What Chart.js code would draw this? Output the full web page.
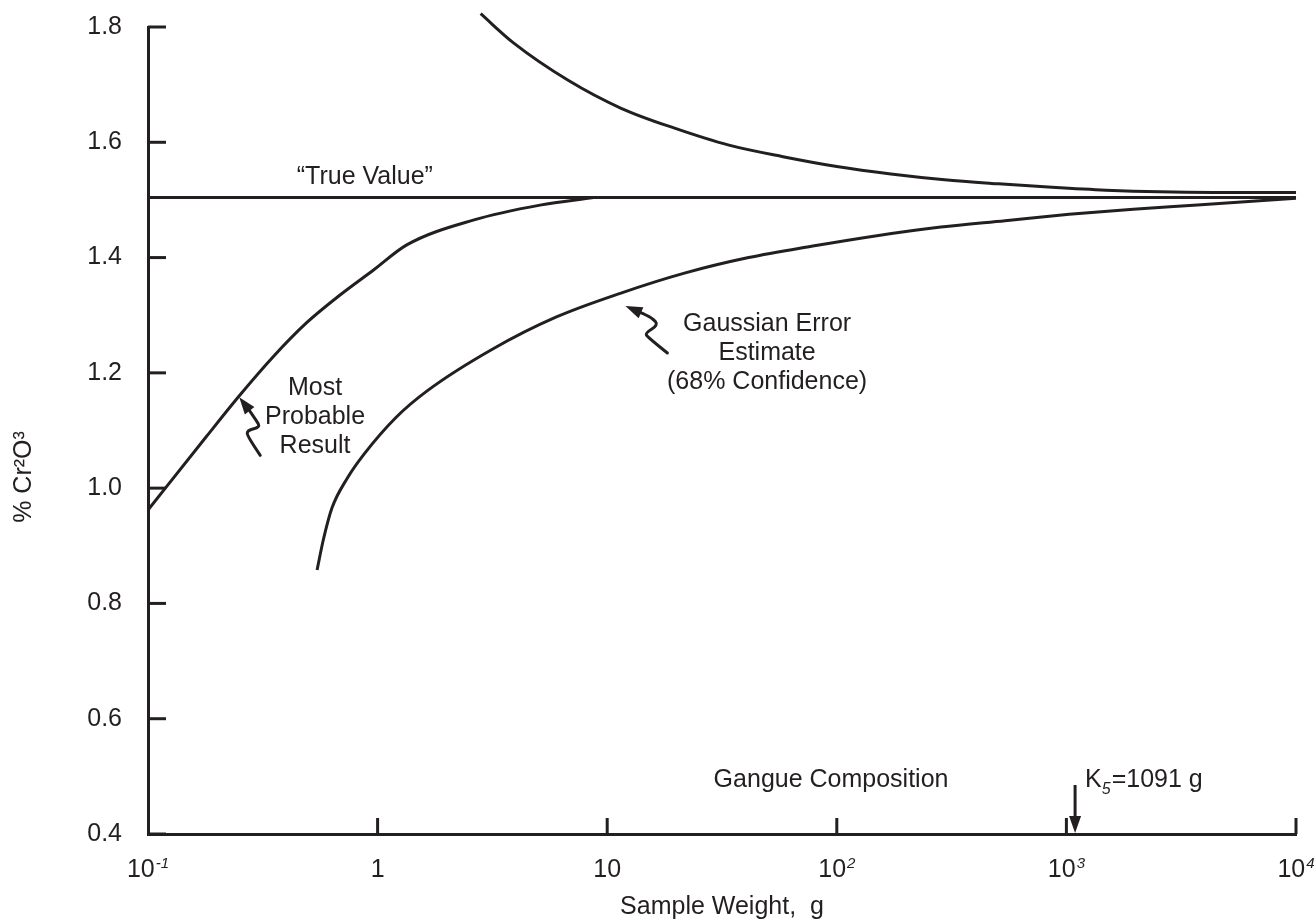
<!DOCTYPE html>
<html>
<head>
<meta charset="utf-8">
<script src="https://cdn.jsdelivr.net/npm/chart.js@4.4.0/dist/chart.umd.min.js"></script>
<style>
  html, body { margin: 0; padding: 0; background: #ffffff; }
  canvas { display: block; }
</style>
</head>
<body>
<canvas id="chart" width="1314" height="923"></canvas>
<script>
const INK = '#231f20';
const FONT = '"Liberation Sans", Arial, Helvetica, sans-serif';

// Sample weight (g) vs % Cr2O3
const trueValueWeight = [0.1, 10000];
const trueValuePct = [1.504, 1.504];

const probableWeight = [0.1, 0.180, 0.252, 0.351, 0.491, 0.686, 0.957, 1.34, 2.61, 5.10, 8.7];
const probablePct = [0.962, 1.090, 1.162, 1.228, 1.287, 1.335, 1.378, 1.422, 1.465, 1.491, 1.504];

const gaussUpperWeight = [2.81, 3.92, 6.73, 11.5, 19.8, 33.9, 58.3, 100, 172, 295, 506, 865, 1487, 2557, 4395, 10000];
const gaussUpperPct = [1.823, 1.772, 1.708, 1.659, 1.624, 1.595, 1.575, 1.558, 1.545, 1.535, 1.528, 1.522, 1.517, 1.514, 1.513, 1.513];

const gaussLowerWeight = [0.545, 0.58, 0.632, 0.74, 0.873, 1.205, 1.66, 3.16, 6.01, 11.4, 21.7, 41.3, 78.6, 149.5, 284, 541, 1028, 1955, 3720, 10000];
const gaussLowerPct = [0.858, 0.910, 0.965, 1.018, 1.059, 1.123, 1.170, 1.241, 1.297, 1.338, 1.373, 1.400, 1.420, 1.438, 1.453, 1.464, 1.475, 1.484, 1.491, 1.503];

// Axis ticks
const yTicks = [0.4, 0.6, 0.8, 1.0, 1.2, 1.4, 1.6, 1.8];
const xTickValues = [0.1, 1, 10, 100, 1000, 10000];
const xTickBase = ['10', '1', '10', '10', '10', '10'];
const xTickExp = ['-1', '', '', '2', '3', '4'];

// Gangue composition marker (g)
const gangueK5 = 1091;

function pairs(xs, ys) { return xs.map((x, i) => ({ x: x, y: ys[i] })); }

function curve(xs, ys) {
  return {
    data: pairs(xs, ys),
    showLine: true,
    borderColor: INK,
    borderWidth: 3,
    pointRadius: 0,
    cubicInterpolationMode: 'monotone',
    clip: false
  };
}

function arrowHead(ctx, fromX, fromY, tipX, tipY, len, half) {
  const a = Math.atan2(tipY - fromY, tipX - fromX);
  const bx = tipX - len * Math.cos(a), by = tipY - len * Math.sin(a);
  ctx.beginPath();
  ctx.moveTo(tipX, tipY);
  ctx.lineTo(bx + half * Math.sin(a), by - half * Math.cos(a));
  ctx.lineTo(bx - half * Math.sin(a), by + half * Math.cos(a));
  ctx.closePath();
  ctx.fill();
  return [bx, by];
}

// Wavy pointer: offsets are measured from the arrow tip, tail first
function squiggle(ctx, tipX, tipY, offsets) {
  const P = offsets.map(o => [tipX + o[0], tipY + o[1]]);
  const prev = P[P.length - 1];
  const base = arrowHead(ctx, prev[0], prev[1], tipX, tipY, 17, 6);
  const pts = P.concat([base]);
  ctx.beginPath();
  ctx.moveTo(pts[0][0], pts[0][1]);
  for (let i = 1; i < pts.length - 1; i++) {
    const mx = (pts[i][0] + pts[i + 1][0]) / 2, my = (pts[i][1] + pts[i + 1][1]) / 2;
    ctx.quadraticCurveTo(pts[i][0], pts[i][1], mx, my);
  }
  ctx.lineTo(base[0], base[1]);
  ctx.stroke();
}

const decorations = {
  id: 'decorations',
  afterDraw(chart) {
    const ctx = chart.ctx;
    const xs = chart.scales.x, ys = chart.scales.y;
    const area = chart.chartArea;
    const X = v => xs.getPixelForValue(v);
    const Y = v => ys.getPixelForValue(v);

    ctx.save();
    ctx.strokeStyle = INK;
    ctx.fillStyle = INK;
    ctx.lineWidth = 3;
    ctx.lineCap = 'butt';

    // inward tick marks
    yTicks.forEach(v => {
      ctx.beginPath();
      ctx.moveTo(area.left, Y(v));
      ctx.lineTo(area.left + 18, Y(v));
      ctx.stroke();
    });
    xTickValues.slice(1).forEach(v => {
      ctx.beginPath();
      ctx.moveTo(X(v), area.bottom);
      ctx.lineTo(X(v), area.bottom - 16);
      ctx.stroke();
    });

    // x tick labels with italic exponents
    const baseFont = '25px ' + FONT;
    const expFont = 'italic 15px ' + FONT;
    ctx.textBaseline = 'alphabetic';
    xTickValues.forEach((v, i) => {
      ctx.font = baseFont;
      const wb = ctx.measureText(xTickBase[i]).width;
      ctx.font = expFont;
      const we = xTickExp[i] ? ctx.measureText(xTickExp[i]).width + 1 : 0;
      const x0 = X(v) - (wb + we) / 2;
      const yb = area.bottom + 43;
      ctx.font = baseFont;
      ctx.textAlign = 'left';
      ctx.fillText(xTickBase[i], x0, yb);
      if (xTickExp[i]) {
        ctx.font = expFont;
        ctx.fillText(xTickExp[i], x0 + wb + 1, yb - 9);
      }
    });

    // axis titles
    ctx.font = '25px ' + FONT;
    ctx.textAlign = 'center';
    ctx.fillText('Sample Weight,  g', (area.left + area.right) / 2, 914);
    ctx.save();
    ctx.translate(24, 477);
    ctx.rotate(-Math.PI / 2);
    ctx.textBaseline = 'middle';
    ctx.fillText('% Cr²O³', 0, 0);
    ctx.restore();

    // curve labels
    ctx.font = '25px ' + FONT;
    ctx.textAlign = 'center';
    ctx.fillText('\u201CTrue Value\u201D', X(0.88), Y(1.527));
    ['Most', 'Probable', 'Result'].forEach((t, i) => ctx.fillText(t, X(0.534), Y(1.1616) + i * 29));
    ['Gaussian Error', 'Estimate', '(68% Confidence)'].forEach((t, i) => ctx.fillText(t, X(49.7), Y(1.2726) + i * 29));
    ctx.fillText('Gangue Composition', X(94.4), Y(0.482));

    // K5 label
    ctx.textAlign = 'left';
    let kx = X(gangueK5) + 10;
    const ky = Y(0.482);
    ctx.fillText('K', kx, ky);
    kx += ctx.measureText('K').width;
    ctx.font = 'italic 16px ' + FONT;
    ctx.fillText('5', kx, ky + 7);
    kx += ctx.measureText('5').width + 1;
    ctx.font = '25px ' + FONT;
    ctx.fillText('=' + gangueK5 + ' g', kx, ky);

    // K5 arrow down to the axis
    const ax = X(gangueK5);
    const base = arrowHead(ctx, ax, Y(0.485), ax, area.bottom - 1, 17, 6);
    ctx.beginPath();
    ctx.moveTo(ax, Y(0.485));
    ctx.lineTo(base[0], base[1] + 1);
    ctx.stroke();

    // wavy pointers
    ctx.lineJoin = 'round';
    ctx.lineCap = 'round';
    squiggle(ctx, X(0.2497), Y(1.1576), [[21, 58], [8, 39], [8, 33], [21, 30], [17, 23], [10, 13]]);
    squiggle(ctx, X(12.0), Y(1.316), [[42, 47], [22, 31], [20, 27], [33, 19], [27, 12], [14, 6]]);

    ctx.restore();
  }
};

const chart = new Chart(document.getElementById('chart'), {
  type: 'scatter',
  data: {
    datasets: [
      curve(trueValueWeight, trueValuePct),
      curve(probableWeight, probablePct),
      curve(gaussUpperWeight, gaussUpperPct),
      curve(gaussLowerWeight, gaussLowerPct)
    ]
  },
  options: {
    responsive: false,
    animation: false,
    devicePixelRatio: 1,
    layout: { padding: { top: 27, right: 18, left: 0, bottom: 0 } },
    plugins: { legend: { display: false }, tooltip: { enabled: false } },
    scales: {
      x: {
        type: 'logarithmic',
        min: 0.1,
        max: 10000,
        grid: { display: false, drawTicks: false },
        border: { display: true, color: INK, width: 3 },
        ticks: { display: false },
        afterFit(s) { s.height = 89; s.paddingLeft = 0; s.paddingRight = 0; }
      },
      y: {
        type: 'linear',
        min: 0.4,
        max: 1.8,
        grid: { display: false, drawTicks: false },
        border: { display: true, color: INK, width: 3 },
        afterBuildTicks(s) { s.ticks = yTicks.map(v => ({ value: v })); },
        ticks: {
          color: INK,
          padding: 26,
          font: { family: FONT, size: 25 },
          callback: v => Number(v).toFixed(1)
        },
        afterFit(s) { s.width = 148; s.paddingTop = 0; s.paddingBottom = 0; }
      }
    }
  },
  plugins: [decorations]
});
</script>
</body>
</html>
